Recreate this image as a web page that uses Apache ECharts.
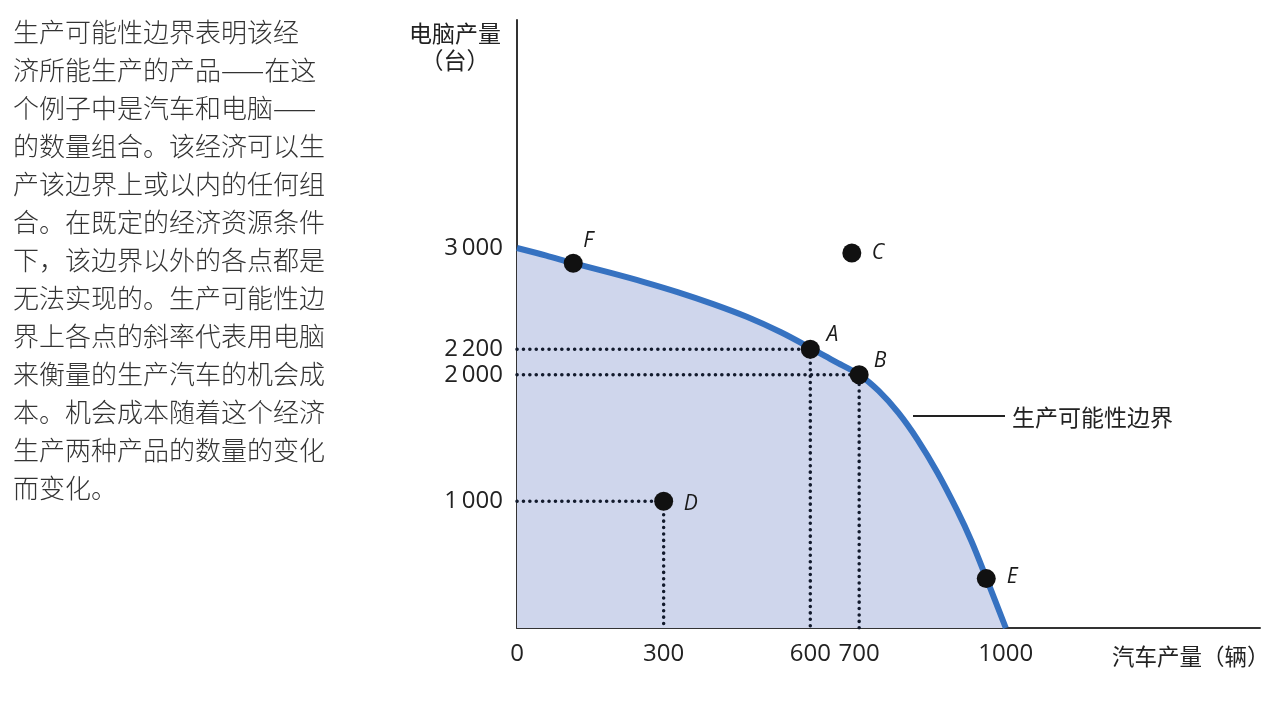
<!DOCTYPE html>
<html><head><meta charset="utf-8">
<script src="https://cdn.jsdelivr.net/npm/echarts@6/dist/echarts.min.js"></script>
<style>html,body{margin:0;padding:0;background:#fff}#c{width:1280px;height:706px}</style>
</head><body><div id="c"></div>
<script>
// ---- data ----
const curveX = [0, 60, 115, 190, 260, 330, 400, 470, 540, 600, 650, 700, 740, 780, 820, 860, 900, 930, 960, 1000];
const curveY = [3000, 2940, 2880, 2805, 2731, 2650, 2559, 2457, 2335, 2212, 2105, 2000, 1872, 1700, 1484, 1228, 932, 683, 395, 0];
const pointNames = ['F', 'A', 'B', 'C', 'D', 'E'];
const pointX = [115, 600, 700, 685, 300, 960];
const pointY = [2880, 2200, 2000, 2960, 1000, 390];
const guideNames = ['A', 'B', 'D'];
const xTicks = [0, 300, 600, 700, 1000];
const yTicks = [1000, 2000, 2200, 3000];
const paragraph = [
  '生产可能性边界表明该经',
  '济所能生产的产品——在这',
  '个例子中是汽车和电脑——',
  '的数量组合。该经济可以生',
  '产该边界上或以内的任何组',
  '合。在既定的经济资源条件',
  '下，该边界以外的各点都是',
  '无法实现的。生产可能性边',
  '界上各点的斜率代表用电脑',
  '来衡量的生产汽车的机会成',
  '本。机会成本随着这个经济',
  '生产两种产品的数量的变化',
  '而变化。'
];
const yAxisName = ['电脑产量', '（台）'];
const xAxisName = '汽车产量（辆）';
const curveName = '生产可能性边界';

// ---- styles ----
const labelOffsets = {F: [15, -22], A: [22, -14], B: [21, -14], C: [26, 0], D: [27, 3], E: [26, -2]};
const CJK = '"Noto Sans CJK SC", "Noto Sans", sans-serif';
const NUM = '"Open Sans", "Noto Sans", sans-serif';
const fmt = v => { const s = String(v); return s.length > 3 ? s.slice(0, s.length - 3) + '\u2009' + s.slice(-3) : s; };

const chart = echarts.init(document.getElementById('c'), null, {renderer: 'canvas'});

const series = [];
series.push({
  type: 'line',
  data: curveX.map((x, i) => [x, curveY[i]]),
  smooth: 0.3,
  showSymbol: false,
  lineStyle: {color: '#3672c1', width: 6},
  areaStyle: {color: '#cfd6ec', opacity: 1},
  z: 2,
  silent: true
});
guideNames.forEach(n => {
  const i = pointNames.indexOf(n);
  series.push({
    type: 'line',
    data: [[0, pointY[i]], [pointX[i], pointY[i]], [pointX[i], 0]],
    showSymbol: false,
    lineStyle: {color: '#121a2c', width: 3.5, type: [0.1, 6.3], cap: 'round'},
    z: 3,
    silent: true
  });
});
series.push({
  type: 'scatter',
  data: pointNames.map((n, i) => ({
    value: [pointX[i], pointY[i]], name: n,
    label: {offset: labelOffsets[n]}
  })),
  symbolSize: 19,
  itemStyle: {color: '#111111', opacity: 1},
  label: {
    show: true, position: 'inside', formatter: '{b}',
    fontFamily: NUM, fontStyle: 'italic', fontSize: 21, color: '#1a1a1a'
  },
  z: 5
});

const graphic = [];
paragraph.forEach((line, i) => {
  graphic.push({type: 'text', style: {
    x: 13, y: 32 + i * 38, text: line, fontFamily: CJK, fontSize: 26, fontWeight: 300,
    fill: '#333', textVerticalAlign: 'middle', textAlign: 'left'
  }});
});
yAxisName.forEach((t, i) => {
  graphic.push({type: 'text', style: {
    x: 455, y: 33 + i * 27, text: t, fontFamily: CJK, fontSize: 23,
    fill: '#222', textAlign: 'center', textVerticalAlign: 'middle'
  }});
});
graphic.push({type: 'text', style: {
  x: 1112, y: 656, text: xAxisName, fontFamily: CJK, fontSize: 22.5,
  fill: '#222', textAlign: 'left', textVerticalAlign: 'middle'
}});
graphic.push({type: 'line', shape: {x1: 913, y1: 416, x2: 1005, y2: 416},
  style: {stroke: '#222', lineWidth: 2}});
graphic.push({type: 'text', style: {
  x: 1012, y: 417, text: curveName, fontFamily: CJK, fontSize: 23,
  fill: '#222', textAlign: 'left', textVerticalAlign: 'middle'
}});

chart.setOption({
  animation: false,
  backgroundColor: '#fff',
  grid: {left: 517, right: 20, top: 20, bottom: 78, containLabel: false},
  xAxis: {
    type: 'value', min: 0, max: 1520,
    axisLine: {show: true, lineStyle: {color: '#333', width: 2}},
    axisTick: {show: false},
    splitLine: {show: false},
    axisLabel: {customValues: xTicks, formatter: v => String(v), fontFamily: NUM, fontSize: 24, color: '#222', margin: 14}
  },
  yAxis: {
    type: 'value', min: 0, max: 4800,
    axisLine: {show: true, lineStyle: {color: '#333', width: 2}},
    axisTick: {show: false},
    splitLine: {show: false},
    axisLabel: {customValues: yTicks, formatter: fmt, fontFamily: NUM, fontSize: 24, color: '#222', margin: 14}
  },
  series: series,
  graphic: graphic
});
</script></body></html>
